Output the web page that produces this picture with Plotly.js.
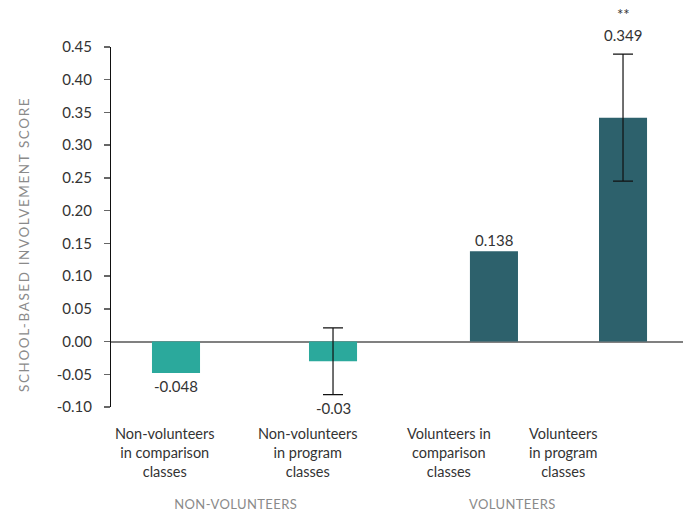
<!DOCTYPE html>
<html>
<head>
<meta charset="utf-8">
<script src="https://cdn.plot.ly/plotly-3.0.1.min.js"></script>
<style>
  html, body { margin: 0; padding: 0; background: #fff; }
  #chart { width: 689px; height: 514px; }
</style>
</head>
<body>
<div id="chart"></div>
<script>
// ---- data ----
const categories = [
  "Non-volunteers<br>in comparison<br>classes",
  "Non-volunteers<br>in program<br>classes",
  "Volunteers in<br>comparison<br>classes",
  "Volunteers<br>in program<br>classes"
];
const groups = ["NON-VOLUNTEERS", "VOLUNTEERS"];
const scores = [-0.048, -0.03, 0.138, 0.342];
const scoreLabels = ["-0.048", "-0.03", "0.138", "0.349"];
const errors = [NaN, 0.051, NaN, 0.097];
const significance = ["", "", "", "**"];
const yTickVals = [-0.10, -0.05, 0.00, 0.05, 0.10, 0.15, 0.20, 0.25, 0.30, 0.35, 0.40, 0.45];
const yTickText = ["-0.10", "-0.05", "0.00", "0.05", "0.10", "0.15", "0.20", "0.25", "0.30", "0.35", "0.40", "0.45"];
const yTitle = "SCHOOL-BASED INVOLVEMENT SCORE";

// ---- layout constants (positions / styles) ----
const barPos = [1, 2, 3.025, 3.847];
const labelPos = [0.93, 1.841, 2.739, 3.465];
const groupPos = [1.382, 3.14];
const barColors = ["#2BA99C", "#2BA99C", "#2D616C", "#2D616C"];
const font = "Lato, 'Open Sans', sans-serif";

const trace = {
  type: "bar",
  x: barPos,
  y: scores,
  width: 0.306,
  marker: { color: barColors, line: { width: 0 } },
  error_y: {
    type: "data",
    array: errors,
    visible: true,
    color: "#111",
    thickness: 1.2,
    width: 10
  },
  hoverinfo: "skip"
};

const annotations = [];
// value labels
scores.forEach((v, i) => {
  const e = isNaN(errors[i]) ? 0 : errors[i];
  const neg = v < 0;
  annotations.push({
    xref: "x", yref: "y",
    x: barPos[i],
    y: neg ? v - e : v + e,
    text: scoreLabels[i],
    showarrow: false,
    yanchor: neg ? "top" : "bottom",
    yshift: neg ? -2 : (e ? 8 : 0),
    font: { family: font, size: 15, color: "#333" }
  });
  if (significance[i]) {
    annotations.push({
      xref: "x", yref: "y",
      x: barPos[i],
      y: v + e,
      text: significance[i],
      showarrow: false,
      yanchor: "bottom",
      yshift: 29,
      font: { family: font, size: 15, color: "#333" }
    });
  }
});
// category labels
categories.forEach((c, i) => {
  annotations.push({
    xref: "x", yref: "paper",
    x: labelPos[i], y: 0,
    text: c,
    showarrow: false,
    yanchor: "top",
    yshift: -16,
    align: "center",
    font: { family: font, size: 14.5, color: "#333" }
  });
});
// group labels
groups.forEach((g, i) => {
  annotations.push({
    xref: "x", yref: "paper",
    x: groupPos[i], y: 0,
    text: g,
    showarrow: false,
    yanchor: "middle",
    yshift: -97,
    font: { family: font, size: 13, color: "#8a8a8a" }
  });
});
// y title
annotations.push({
  xref: "paper", yref: "paper",
  x: 0, y: 0.5,
  xshift: -97,
  yshift: -18,
  text: yTitle,
  textangle: -90,
  showarrow: false,
  font: { family: font, size: 13.5, color: "#8a8a8a" }
});

const layout = {
  width: 689,
  height: 514,
  margin: { l: 111, r: 6, t: 47, b: 107 },
  paper_bgcolor: "#fff",
  plot_bgcolor: "#fff",
  showlegend: false,
  xaxis: {
    range: [0.586, 4.229],
    showticklabels: false,
    showgrid: false,
    zeroline: false,
    showline: false,
    ticks: ""
  },
  yaxis: {
    range: [-0.10, 0.45],
    tickmode: "array",
    tickvals: yTickVals,
    ticktext: yTickText,
    ticks: "outside",
    ticklen: 6,
    tickcolor: "#666",
    tickwidth: 1.5,
    ticklabelstandoff: 9,
    showline: true,
    linecolor: "#111",
    linewidth: 1,
    showgrid: false,
    zeroline: true,
    zerolinecolor: "#808080",
    zerolinewidth: 2,
    tickfont: { family: font, size: 15, color: "#333" }
  },
  annotations: annotations
};

Plotly.newPlot("chart", [trace], layout, { displayModeBar: false, staticPlot: true }).then(() => {
  const n = annotations.length - 1;
  document.querySelectorAll('.annotation[data-index="' + n + '"] text').forEach(t => {
    t.style.letterSpacing = "1.6px";
  });
  groups.forEach((g, i) => {
    const idx = n - groups.length + i;
    document.querySelectorAll('.annotation[data-index="' + idx + '"] text').forEach(t => {
      t.style.letterSpacing = "0.4px";
    });
  });
});
</script>
</body>
</html>
